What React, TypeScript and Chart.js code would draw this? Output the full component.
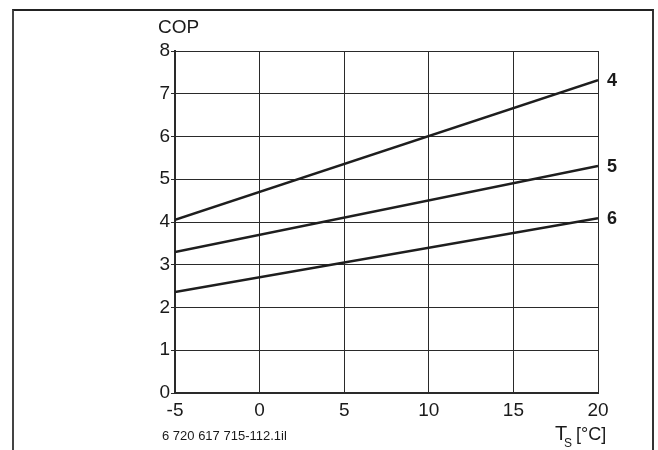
import React, { useEffect, useRef } from "react";
import { Chart, registerables } from "chart.js";

Chart.register(...registerables);

const FONT = '"Liberation Sans", Arial, Helvetica, sans-serif';

const temperatures = [-5, 20];
const cop4 = [4.05, 7.32];
const cop5 = [3.3, 5.31];
const cop6 = [2.36, 4.09];
const curveLabels = ["4", "5", "6"];
const yTitle = "COP";
const xTitleMain = "T";
const xTitleSub = "S";
const xTitleUnit = "[°C]";
const footnote = "6 720 617 715-112.1il";

const LINE = "#1e1e1e";
const GRID = "#2a2a2a";

export default function App() {
  const ref = useRef<HTMLCanvasElement>(null);

  useEffect(() => {
    if (!ref.current) return;
    const toPts = (vals: number[]) => temperatures.map((t, i) => ({ x: t, y: vals[i] }));

    const annot = {
      id: "annot",
      afterDatasetsDraw(chart: any) {
        const ctx = chart.ctx;
        const { left, right } = chart.chartArea;
        const xs = chart.scales.x;
        const ys = chart.scales.y;
        ctx.save();
        ctx.fillStyle = "#1a1a1a";
        ctx.textAlign = "left";
        ctx.textBaseline = "middle";
        ctx.font = `bold 18px ${FONT}`;
        chart.data.datasets.forEach((ds: any, i: number) => {
          const last = ds.data[ds.data.length - 1];
          ctx.fillText(curveLabels[i], xs.getPixelForValue(last.x) + 9, ys.getPixelForValue(last.y) + 1);
        });
        ctx.textBaseline = "alphabetic";
        ctx.font = `19px ${FONT}`;
        ctx.fillText(yTitle, left - 17, 33);
        ctx.font = `20px ${FONT}`;
        ctx.fillText(xTitleMain, right - 43, 440);
        ctx.font = `12px ${FONT}`;
        ctx.fillText(xTitleSub, right - 34, 447);
        ctx.font = `18px ${FONT}`;
        ctx.fillText(xTitleUnit, right - 22, 440);
        ctx.font = `13px ${FONT}`;
        ctx.fillText(footnote, left - 13, 440);
        ctx.restore();
      },
    };

    const chart = new Chart(ref.current, {
      type: "line",
      data: {
        datasets: [
          { data: toPts(cop4), borderColor: LINE, borderWidth: 2.5, pointRadius: 0, fill: false },
          { data: toPts(cop5), borderColor: LINE, borderWidth: 2.5, pointRadius: 0, fill: false },
          { data: toPts(cop6), borderColor: LINE, borderWidth: 2.5, pointRadius: 0, fill: false },
        ],
      },
      options: {
        animation: false,
        responsive: false,
        maintainAspectRatio: false,
        layout: { padding: { left: 0, right: 60, top: 51, bottom: 0 } },
        plugins: { legend: { display: false }, tooltip: { enabled: false }, title: { display: false } },
        scales: {
          x: {
            type: "linear",
            min: -5,
            max: 20,
            ticks: { stepSize: 5, color: "#1a1a1a", font: { family: FONT, size: 19 }, padding: 6, maxRotation: 0 },
            grid: { color: GRID, lineWidth: 1, drawTicks: false },
            border: { color: GRID, width: 2 },
            afterFit: (s: any) => { s.height = 57; },
          },
          y: {
            type: "linear",
            min: 0,
            max: 8,
            ticks: { stepSize: 1, color: "#1a1a1a", font: { family: FONT, size: 19 }, padding: 1 },
            grid: { color: GRID, lineWidth: 1, tickLength: 4 },
            border: { color: GRID, width: 2 },
            afterFit: (s: any) => { s.width = 175; },
          },
        },
      },
      plugins: [annot],
    });
    return () => chart.destroy();
  }, []);

  return (
    <div style={{ position: "fixed", left: 0, top: 0, width: 658, height: 450, background: "#fff", overflow: "hidden" }}>
      <canvas ref={ref} width={658} height={450} style={{ position: "absolute", left: 0, top: 0 }} />
      <div
        style={{
          position: "absolute",
          left: 12,
          top: 9,
          width: 642,
          height: 460,
          borderLeft: "2px solid #444",
          borderTop: "2px solid #222",
          borderRight: "2px solid #333",
          boxSizing: "border-box",
          pointerEvents: "none",
        }}
      />
    </div>
  );
}
